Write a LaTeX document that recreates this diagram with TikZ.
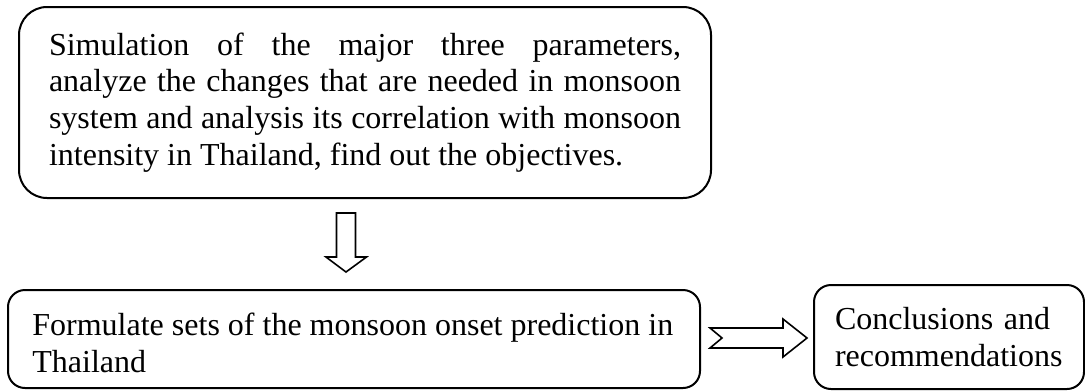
\documentclass[tikz,border=0pt]{standalone}
\usepackage{fontspec}
\setmainfont{Liberation Serif}
\usepackage{tikz}
\usetikzlibrary{positioning}

\begin{document}
\begin{tikzpicture}[
      x=0.5pt, y=-0.5pt,
      stage/.style={rectangle, draw, line width=1pt, rounded corners=8.5pt,
        inner sep=0pt, font=\fontsize{16pt}{18.4pt}\selectfont},
      stage text/.style={inner sep=0pt, align=left,
        font=\fontsize{16pt}{18.4pt}\selectfont},
      bigarrow/.style={draw, line width=0.8pt, fill=white, line join=miter},
  ]
      \useasboundingbox (0,0) rectangle (1085,391);

      % Boxes
      \node[stage, rounded corners=14pt, minimum width=346pt, minimum height=95.5pt,
        text width=316pt, align=justify] (sim) at (365,102.5)
        {Simulation of the major three parameters,\linebreak
         analyze the changes that are needed in monsoon\linebreak
         system and analysis its correlation with monsoon\linebreak
         intensity in Thailand, find out the objectives.};
      \node[stage, minimum width=346pt, minimum height=49pt] (form) at (354,339) {};
      \node[stage text, anchor=west] (formtext) at ([xshift=12.5pt,yshift=-2pt]form.west)
        {Formulate sets of the monsoon onset prediction in\\Thailand};
      \node[stage, minimum width=135pt, minimum height=52pt,
        text width=114pt, align=left] (concl) at (949,337)
        {Conclusions and\\recommendations};

      % Block arrows
      \coordinate (down) at (346,213);
      \draw[bigarrow] (down) ++(-9.5,0) -- ++(19,0) -- ++(0,44) -- ++(11,0)
        -- (346,272) -- (326,257) -- ++(10.5,0) -- cycle;
      \coordinate (right) at (710,328);
      \draw[bigarrow] (right) -- ++(73,0) -- ++(0,-9) -- (807,338)
        -- (783,357) -- ++(0,-9) -- (710,348) -- (722,338) -- cycle;

  \end{tikzpicture}
\end{document}
